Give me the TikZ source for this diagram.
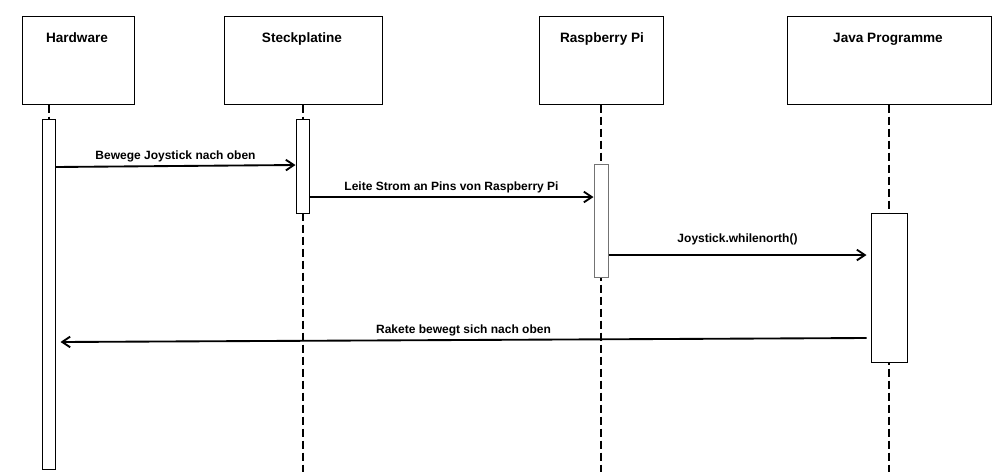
\documentclass[tikz,border=0pt]{standalone}
\usepackage{fontspec}
\setmainfont{Liberation Sans}
\usetikzlibrary{arrows.meta}
\begin{document}
\begin{tikzpicture}[x=0.75pt,y=-0.75pt,>={Straight Barb[length=6pt,width=8pt]},
head/.style = {draw, line width=0.75pt, minimum height=66pt, inner sep=0pt},
headtext/.style = {anchor=base, font=\bfseries\fontsize{10.2}{12}\selectfont},
bar/.style = {draw, fill=white, line width=0.75pt, minimum width=9.75pt, inner sep=0pt},
life/.style = {line width=1.5pt, dash pattern=on 6pt off 3pt},
msg/.style = {->, line width=1.4pt},
lbl/.style = {midway, above, inner sep=2pt, font=\bfseries\fontsize{9}{11}\selectfont},]
\useasboundingbox (0,0) rectangle (1008,472);
\coordinate (bot) at (0,472);
% participants
\node (hw) at (78,60)[head,minimum width=84pt] {};
\node (sp) at (303,60)[head,minimum width=118.5pt] {};
\node (rp) at (601,60)[head,minimum width=93pt] {};
\node (jp) at (889,60)[head,minimum width=153pt] {};
\node (hwt) at (77,42)[headtext] {Hardware};
\node (spt) at (302,42)[headtext] {Steckplatine};
\node (rpt) at (602,42)[headtext] {Raspberry Pi};
\node (jpt) at (888,42)[headtext] {Java Programme};
% lifelines
\draw[life] (hw.south -| 48.5,0)--(48.5,119);
\draw[life] (sp.south -| 302.5,0)--(302.5,472);
\draw[life] (rp.south -| 601,0)--(601,472);
\draw[life] (jp.south -| 889,0)--(889,472);
% activation bars
\node (hwbar) at (48.5,294)[bar,minimum height=262.5pt] {};
\node (spbar) at (302.5,166)[bar,minimum height=70.5pt] {};
\node (rpbar) at (601,220.5)[bar,draw=gray!90!black,minimum width=10.5pt,minimum height=84.75pt] {};
\node (jpbar) at (889,287.5)[bar,minimum width=27pt,minimum height=111.75pt] {};
% messages
\draw[msg] (hwbar.east |- 0,167)--(spbar.west |- 0,165) node[lbl] {Bewege Joystick nach oben};
\draw[msg] (spbar.east |- 0,197)--(rpbar.west |- 0,197) node[lbl] {Leite Strom an Pins von Raspberry Pi};
\draw[msg] (rpbar.east |- 0,255)--([xshift=-3pt]jpbar.west |- 0,255) node[lbl,yshift=5pt] {Joystick.whilenorth()};
\draw[msg] ([xshift=-3pt]jpbar.west |- 0,338)--([xshift=3.75pt]hwbar.east |- 0,342) node[lbl] {Rakete bewegt sich nach oben};
\end{tikzpicture}
\end{document}
